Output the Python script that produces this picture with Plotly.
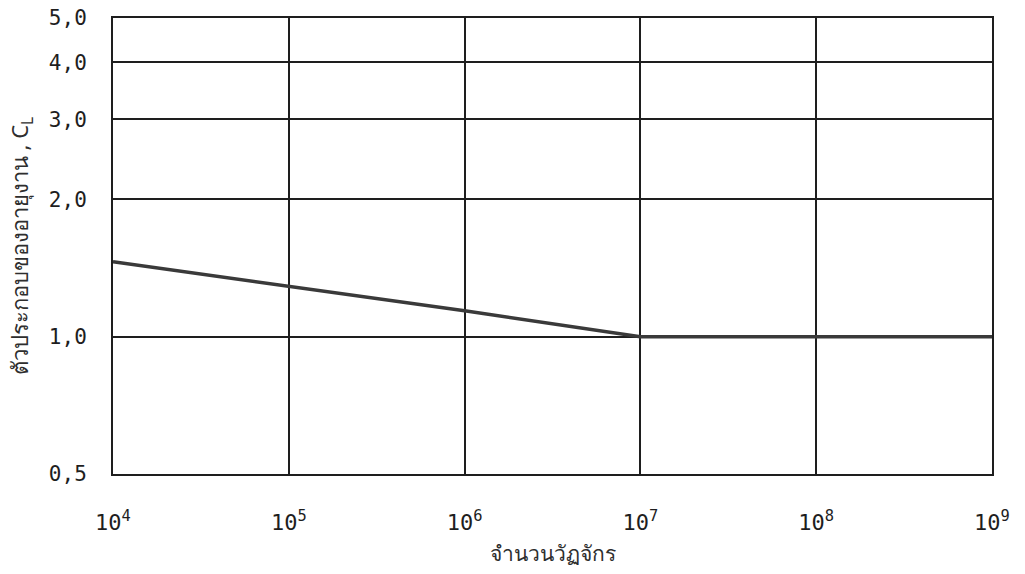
import plotly.graph_objects as go

# Life factor C_L versus number of cycles
cycles = [1e4, 1e5, 1e6, 1e7, 1e8, 1e9]
life_factor = [1.46, 1.29, 1.14, 1.0, 1.0, 1.0]

x_tick_vals = [1e4, 1e5, 1e6, 1e7, 1e8, 1e9]
x_tick_text = ["10<sup>4</sup>", "10<sup>5</sup>", "10<sup>6</sup>",
               "10<sup>7</sup>", "10<sup>8</sup>", "10<sup>9</sup>"]
y_tick_vals = [0.5, 1.0, 2.0, 3.0, 4.0, 5.0]
y_tick_text = ["0,5", "1,0", "2,0", "3,0", "4,0", "5,0"]

ink = "#1e1e1e"
title_ink = "#2e2e2e"

fig = go.Figure()
fig.add_trace(go.Scatter(
    x=cycles, y=life_factor, mode="lines",
    line=dict(color="#3a3a3a", width=3.5),
    showlegend=False, hoverinfo="skip",
))

fig.update_xaxes(
    type="log", range=[4, 9], automargin=False,
    tickvals=x_tick_vals, ticktext=x_tick_text,
    showgrid=True, gridcolor=ink, gridwidth=1.8,
    showline=True, linecolor=ink, linewidth=2, mirror=True,
    ticks="", ticklabelstandoff=28,
    tickfont=dict(family="DejaVu Sans Mono, monospace", size=22, color=ink),
    title=dict(text="จำนวนวัฏจักร", standoff=12,
               font=dict(family="Noto Sans, sans-serif", size=21, color=title_ink)),
    zeroline=False,
)
fig.update_yaxes(
    type="log", range=[-0.30103, 0.69897], automargin=False,
    tickvals=y_tick_vals, ticktext=y_tick_text,
    showgrid=True, gridcolor=ink, gridwidth=1.8,
    showline=True, linecolor=ink, linewidth=2, mirror=True,
    ticks="", ticklabelstandoff=20,
    tickfont=dict(family="DejaVu Sans Mono, monospace", size=21, color=ink),
    title=dict(text="ตัวประกอบของอายุงาน , C<sub>L</sub>", standoff=14,
               font=dict(family="Noto Sans, sans-serif", size=22, color=title_ink)),
    zeroline=False,
)

fig.update_layout(
    width=1025, height=574,
    margin=dict(l=113, r=33, t=18, b=100),
    paper_bgcolor="white", plot_bgcolor="white",
)

fig.write_html("out.html")
